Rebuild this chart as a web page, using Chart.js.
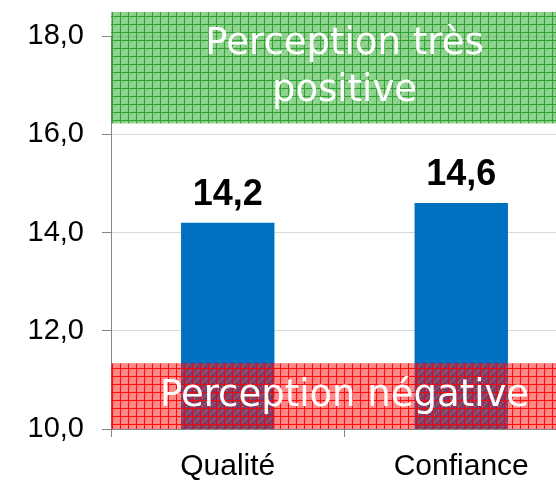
<!DOCTYPE html>
<html>
<head>
<meta charset="utf-8">
<script src="https://cdn.jsdelivr.net/npm/chart.js@4/dist/chart.umd.min.js"></script>
<style>
  html, body { margin: 0; padding: 0; background: #fff; overflow: hidden; width: 556px; height: 481px; }
  /* le graphique d'origine est rogné à droite */
  #wrap { width: 600px; height: 481px; position: relative; }
</style>
</head>
<body>
<div id="wrap"><canvas id="chart"></canvas></div>
<script>
// ─── DONNÉES ──────────────────────────
const categories  = ['Qualité', 'Confiance'];
const scores      = [14.2, 14.6];
const yTicks      = [10, 12, 14, 16, 18];
// Zones de perception (bas, haut) en valeurs de l'axe Y
const zoneNegative = [10, 11.34];
const zonePositive = [16.22, 18.49];
const zoneLabels   = { negative: ['Perception négative'], positive: ['Perception très', 'positive'] };

const fmt = v => v.toFixed(1).replace('.', ',');

// Motif quadrillé façon Excel
function makePattern(line, fill, dot) {
  const c = document.createElement('canvas');
  c.width = 8; c.height = 8;
  const g = c.getContext('2d');
  g.fillStyle = fill;
  g.fillRect(0, 0, 8, 8);
  g.fillStyle = line;
  g.fillRect(0, 0, 8, 1);
  g.fillRect(0, 1, 1, 7);
  g.fillStyle = dot;
  g.fillRect(4, 4, 1, 1);
  g.fillRect(2, 6, 1, 1);
  g.fillRect(6, 2, 1, 1);
  return g.createPattern(c, 'repeat');
}

const bandsPlugin = {
  id: 'bands',
  afterDatasetsDraw(chart) {
    const { ctx, chartArea, scales: { y } } = chart;
    const right = chart.width;
    const cx = (chartArea.left + chartArea.right) / 2;
    const bands = [
      { range: zonePositive, pat: makePattern('rgba(30,150,30,0.8)', 'rgba(40,170,40,0.55)', 'rgba(255,255,255,0.5)'), lines: zoneLabels.positive },
      { range: zoneNegative, pat: makePattern('rgba(255,0,0,0.9)', 'rgba(255,10,10,0.5)', 'rgba(255,255,255,0.4)'), lines: zoneLabels.negative },
    ];
    ctx.save();
    bands.forEach(b => {
      const top = y.getPixelForValue(b.range[1]);
      const bot = y.getPixelForValue(b.range[0]);
      ctx.fillStyle = b.pat;
      ctx.fillRect(chartArea.left, top, right - chartArea.left, bot - top);
      ctx.fillStyle = '#ffffff';
      ctx.font = '37px "DejaVu Sans"';
      ctx.textAlign = 'center';
      ctx.textBaseline = 'middle';
      const mid = (top + bot) / 2;
      const lh = 47;
      b.lines.forEach((t, i) => {
        ctx.fillText(t, cx, mid + (i - (b.lines.length - 1) / 2) * lh);
      });
    });
    ctx.restore();
  },
  afterDraw(chart) {
    const { ctx } = chart;
    const meta = chart.getDatasetMeta(0);
    ctx.save();
    ctx.fillStyle = '#000';
    ctx.font = 'bold 36px "Liberation Sans", Arial, sans-serif';
    ctx.textAlign = 'center';
    ctx.textBaseline = 'alphabetic';
    meta.data.forEach((bar, i) => {
      ctx.fillText(fmt(scores[i]), bar.x, bar.y - 18);
    });
    ctx.restore();
  },
};

new Chart(document.getElementById('chart'), {
  type: 'bar',
  data: {
    labels: categories,
    datasets: [{
      data: scores,
      backgroundColor: '#0070c0',
      borderWidth: 0,
      barPercentage: 0.4,
      categoryPercentage: 1,
    }],
  },
  options: {
    responsive: true,
    maintainAspectRatio: false,
    animation: false,
    layout: { padding: { top: 36, right: 22, bottom: 0, left: 0 } },
    plugins: { legend: { display: false }, tooltip: { enabled: false } },
    scales: {
      x: {
        afterFit: s => { s.height = 52; },
        grid: {
          offset: true,
          drawOnChartArea: false,
          tickLength: 8,
          tickColor: '#868686',
        },
        border: { color: '#868686' },
        ticks: { color: '#000', font: { family: '"Liberation Sans", Arial', size: 30 }, padding: 12 },
      },
      y: {
        min: yTicks[0],
        max: yTicks[yTicks.length - 1],
        afterBuildTicks: s => { s.ticks = yTicks.map(v => ({ value: v })); },
        afterFit: s => { s.width = 111; },
        grid: { color: '#d9d9d9', tickColor: '#868686', tickLength: 9 },
        border: { color: '#868686' },
        ticks: {
          color: '#000',
          font: { family: '"Liberation Sans", Arial', size: 29 },
          padding: 18,
          callback: v => fmt(v),
        },
      },
    },
  },
  plugins: [bandsPlugin],
});
</script>
</body>
</html>
